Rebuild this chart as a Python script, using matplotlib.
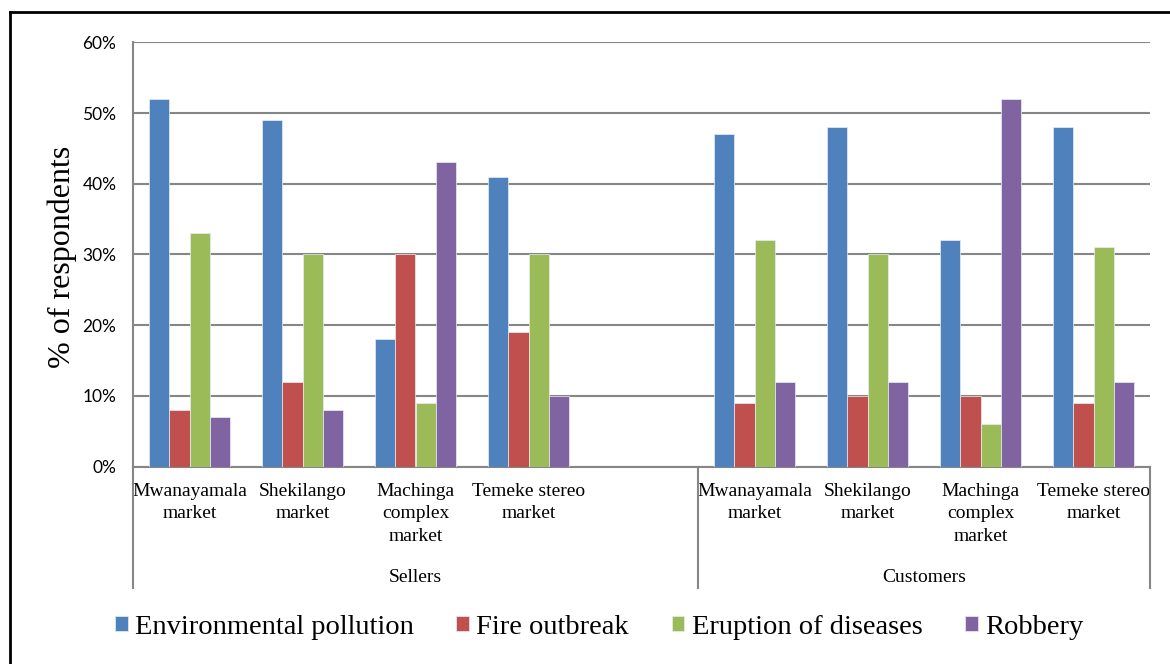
import matplotlib
matplotlib.use("Agg")
import matplotlib.pyplot as plt
import matplotlib.transforms as mtransforms
from matplotlib.patches import Patch
from matplotlib.lines import Line2D
import numpy as np

plt.rcParams['font.family'] = ['Liberation Serif', 'DejaVu Serif']

# Data (% of respondents)
markets = ["Mwanayamala\nmarket", "Shekilango\nmarket",
           "Machinga\ncomplex\nmarket", "Temeke stereo\nmarket"]
groups = ["Sellers", "Customers"]
series = ["Environmental pollution", "Fire outbreak",
          "Eruption of diseases", "Robbery"]
colors = ["#4F81BD", "#C0504D", "#9BBB59", "#8064A2"]

sellers_env = [52, 49, 18, 41]
sellers_fire = [8, 12, 30, 19]
sellers_disease = [33, 30, 9, 30]
sellers_robbery = [7, 8, 43, 10]

customers_env = [47, 48, 32, 48]
customers_fire = [9, 10, 10, 9]
customers_disease = [32, 30, 6, 31]
customers_robbery = [12, 12, 52, 12]

yticks = [0, 10, 20, 30, 40, 50, 60]

# Sellers use slots 0-3, slot 4 is an empty category, customers 5-8
sellers_pos = np.arange(4)
customers_pos = np.arange(5, 9)
n_slots = 9

sellers = [sellers_env, sellers_fire, sellers_disease, sellers_robbery]
customers = [customers_env, customers_fire, customers_disease, customers_robbery]

W, H = 1170, 664
fig = plt.figure(figsize=(W / 100, H / 100), dpi=100)
left, right, top, bottom = 133, 1150, 42.3, 466.5
ax = fig.add_axes([left / W, 1 - bottom / H, (right - left) / W, (bottom - top) / H])

bw = 0.18
offsets = (np.arange(4) - 1.5) * bw
for i in range(4):
    ax.bar(sellers_pos + offsets[i], sellers[i], bw, color=colors[i],
           edgecolor="#e8eef5", linewidth=0.5, zorder=3)
    ax.bar(customers_pos + offsets[i], customers[i], bw, color=colors[i],
           edgecolor="#e8eef5", linewidth=0.5, zorder=3)

ax.set_xlim(-0.5, n_slots - 0.5)
ax.set_ylim(0, 60)
ax.set_yticks(yticks)
ax.set_yticklabels(["%d%%" % v for v in yticks], fontsize=12.5,
                   family=["Lato", "DejaVu Sans"])
ax.yaxis.grid(True, color="#868686", linewidth=1.5, zorder=0)
ax.set_axisbelow(True)

ticklabels = markets + [""] + markets
ax.set_xticks(np.arange(n_slots))
ax.set_xticklabels(ticklabels, fontsize=14, linespacing=1.4)
ax.tick_params(axis="both", length=0)
ax.tick_params(axis="x", pad=12)
ax.tick_params(axis="y", pad=12)

for s in ["top", "right"]:
    ax.spines[s].set_visible(False)
for s in ["left", "bottom"]:
    ax.spines[s].set_color("#868686")
    ax.spines[s].set_linewidth(1.5)

# group separators below the category axis
trans = mtransforms.blended_transform_factory(ax.transData, ax.transAxes)
y_low = (bottom - 588) / (bottom - top)
for xs in [-0.5, 4.5, 8.5]:
    ax.plot([xs, xs], [0, y_low], color="#868686", lw=1.5,
            transform=trans, clip_on=False)
y_grp = (bottom - 577) / (bottom - top)
ax.text(2.0, y_grp, groups[0], transform=trans, ha="center", va="center", fontsize=14)
ax.text(6.5, y_grp, groups[1], transform=trans, ha="center", va="center", fontsize=14)

fig.text(62 / W, 1 - 257 / H, "% of respondents", rotation=90,
         ha="center", va="center", fontsize=23)

handles = [Patch(facecolor=c, edgecolor="#e8eef5", linewidth=0.5) for c in colors]
fig.legend(handles, series, loc="center", bbox_to_anchor=(599 / W, 1 - 627 / H),
           ncol=4, frameon=False, fontsize=20.5, handlelength=0.45,
           handleheight=0.45, handletextpad=0.25, columnspacing=1.5)

# outer frame (left and top edges visible)
fig.add_artist(Line2D([10 / W, 10 / W], [0, 1 - 12 / H], color="black", lw=2,
                      transform=fig.transFigure))
fig.add_artist(Line2D([10 / W, 1], [1 - 12 / H, 1 - 12 / H], color="black", lw=2,
                      transform=fig.transFigure))

fig.savefig("out.png", dpi=100)
